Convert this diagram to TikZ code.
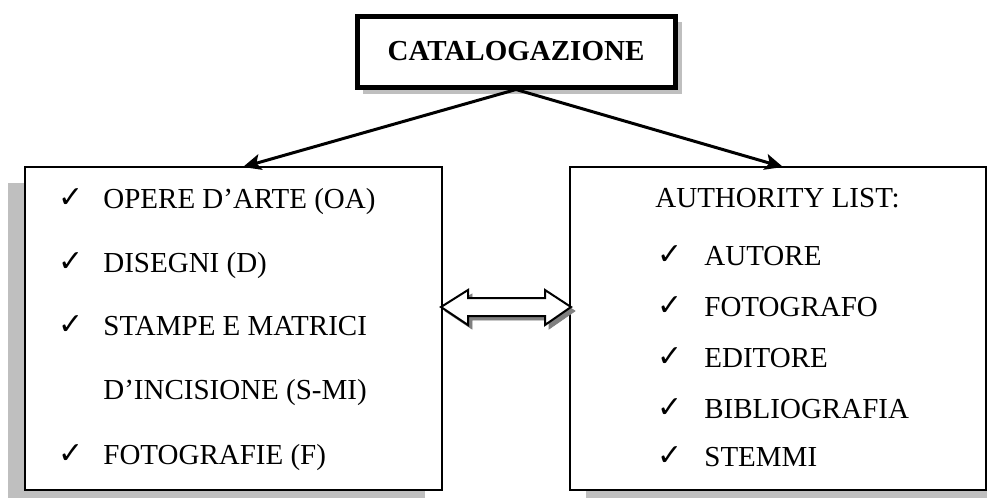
\documentclass[tikz,border=0pt]{standalone}
\usepackage{fontspec}
\setmainfont{Liberation Serif}
\newfontfamily\symfont{DejaVu Sans}
\usetikzlibrary{arrows.meta}

\tikzset{
	frame/.style={draw, line width=1pt, fill=white, inner sep=0pt},
	shade/.style={fill=black!25, draw=none},
	voice/.style={anchor=base west, inner sep=0pt, font=\fontsize{14.5}{17}\selectfont},
	tick/.style={anchor=base west, inner sep=0pt, yshift=0.5pt, font=\symfont\fontsize{15}{17}\selectfont},
	link/.style={line width=1.5pt, -{Stealth[length=9pt, width=8pt, inset=2pt]}}
}

\begin{document}
\begin{tikzpicture}[x=0.5pt, y=-0.5pt]
		\useasboundingbox (0, 0) rectangle (987, 498);
		\clip (0, 0) rectangle (987, 498);
		% ombre
		\filldraw[shade] (8, 183) rectangle (425, 510);
		\filldraw[shade] (586, 183) rectangle (1005, 510);
		\filldraw[shade] (363, 22) rectangle (682, 94);
		% riquadri
		\node[frame, minimum width=208.5pt, minimum height=161.5pt] (schede) at (233.5, 328.5) {};
		\node[frame, minimum width=208pt, minimum height=161.5pt] (liste) at (778, 328.5) {};
		\node[frame, line width=2.5pt, minimum width=159pt, minimum height=35.5pt,
			font=\bfseries\fontsize{14.5}{17}\selectfont] (catalogo) at (516, 51.5) {CATALOGAZIONE};
		% frecce
		\coordinate (sx) at (243, 167);
		\coordinate (dx) at (783, 167);
		\draw[link] (catalogo.south) -- (sx);
		\draw[link] (catalogo.south) -- (dx);
		% freccia doppia
		\filldraw[black!50] (445, 311) -- (472, 294) -- (472, 302) -- (549, 302) -- (549, 294) -- (575, 311)
			-- (549, 329) -- (549, 320) -- (472, 320) -- (472, 329) -- cycle;
		\filldraw[fill=white, draw=black, line width=1pt] (441, 307) -- (468, 290) -- (468, 298) -- (545, 298) -- (545, 290) -- (571, 307)
			-- (545, 325) -- (545, 316) -- (468, 316) -- (468, 325) -- cycle;
		\node[inner sep=0pt] (scambio) at (506, 307) {};
		% voci di sinistra
		\node[tick] (c1) at (58, 208) {✓};
		\node[voice] (oa) at (103, 208) {OPERE D’ARTE (OA)};
		\node[tick] (c2) at (58, 272) {✓};
		\node[voice] (d) at (103, 272) {DISEGNI (D)};
		\node[tick] (c3) at (58, 335) {✓};
		\node[voice] (s) at (103, 335) {STAMPE E MATRICI};
		\node[voice] (mi) at (103, 399) {D’INCISIONE (S-MI)};
		\node[tick] (c4) at (58, 464) {✓};
		\node[voice] (f) at (103, 464) {FOTOGRAFIE (F)};
		% voci di destra
		\node[voice] (al) at (655, 207) {AUTHORITY LIST:};
		\node[tick] (c5) at (657, 265) {✓};
		\node[voice] (aut) at (704, 265) {AUTORE};
		\node[tick] (c6) at (657, 316) {✓};
		\node[voice] (fot) at (704, 316) {FOTOGRAFO};
		\node[tick] (c7) at (657, 367) {✓};
		\node[voice] (ed) at (704, 367) {EDITORE};
		\node[tick] (c8) at (657, 418) {✓};
		\node[voice] (bib) at (704, 418) {BIBLIOGRAFIA};
		\node[tick] (c9) at (657, 466) {✓};
		\node[voice] (st) at (704, 466) {STEMMI};
	\end{tikzpicture}
\end{document}
